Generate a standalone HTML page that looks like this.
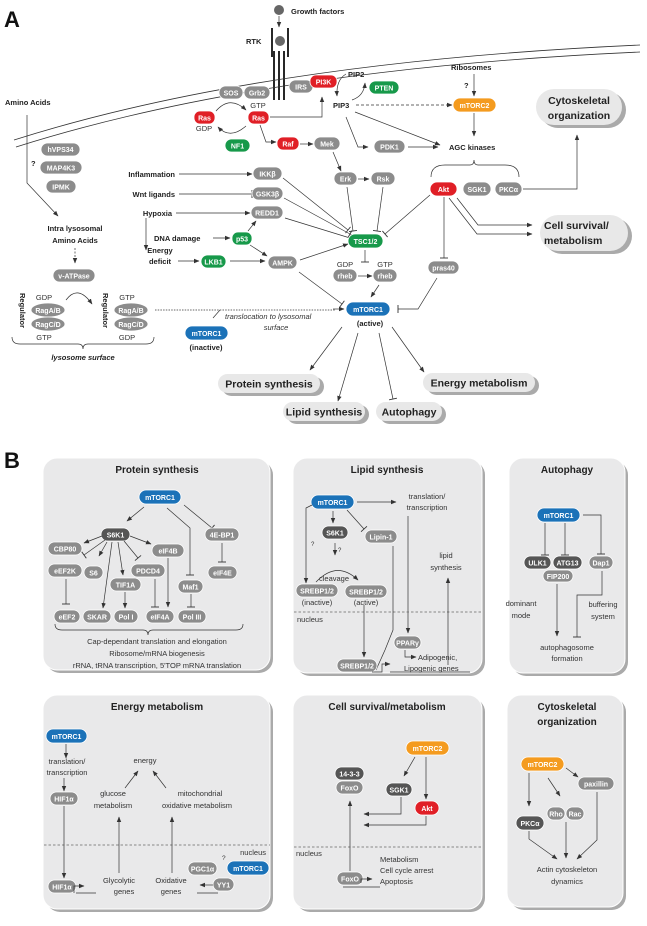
<!DOCTYPE html>
<html><head><meta charset="utf-8"><style>
html,body{margin:0;padding:0;background:#fff}
svg{display:block}
text{font-family:"Liberation Sans",sans-serif}
.b{font-weight:bold;font-size:7.5px;fill:#222}
.n{font-size:7.5px;fill:#333}
.pt{font-weight:bold;font-size:7px;fill:#fff;text-anchor:middle}
.g{fill:#8c8c8c;stroke:#fff;stroke-width:0.8}
.d{fill:#555;stroke:#fff;stroke-width:0.8}
.r{fill:#e01f26;stroke:#fff;stroke-width:0.8}
.gr{fill:#17994a;stroke:#fff;stroke-width:0.8}
.bl{fill:#1b72b8;stroke:#fff;stroke-width:0.8}
.o{fill:#f49b1f;stroke:#fff;stroke-width:0.8}
.l{stroke:#333;stroke-width:0.7;fill:none}
.a{marker-end:url(#ar)}
.t{marker-end:url(#tb)}
.bub{fill:#e8e8e8}
.bs{fill:#aaa}
.bt{font-weight:bold;font-size:10.5px;fill:#222;text-anchor:middle}
.box{fill:#e9e9ea}
.c{text-anchor:middle}
</style></head><body>
<svg width="647" height="926" viewBox="0 0 647 926" xmlns="http://www.w3.org/2000/svg">
<defs>
<marker id="ar" markerWidth="6" markerHeight="6" refX="5" refY="3" orient="auto" markerUnits="userSpaceOnUse"><path d="M0,0.8 L5.5,3 L0,5.2z" fill="#333"/></marker>
<marker id="tb" markerWidth="2" markerHeight="8" refX="1" refY="4" orient="auto" markerUnits="userSpaceOnUse"><path d="M1,0 L1,8" stroke="#333" stroke-width="0.9"/></marker>
</defs>

<!-- PANEL A -->
<text x="4" y="27" style="font-weight:bold;font-size:22px;fill:#111">A</text>
<circle cx="279" cy="10" r="5" fill="#666"/>
<text x="291" y="14" class="b">Growth factors</text>
<path class="l a" d="M279,16 L279,27"/>
<text x="246" y="44" class="b">RTK</text>
<path d="M272,28 V57 M288,28 V57 M274,51 V100 M279,51 V100 M284,51 V100" stroke="#111" stroke-width="1.8"/>
<circle cx="280" cy="41" r="5" fill="#666"/>
<path d="M14,140 Q 260,62 640,45" class="l" style="stroke-width:0.8"/>
<path d="M16,147 Q 262,69 640,52" class="l" style="stroke-width:0.8"/>

<text x="5" y="105" class="b">Amino Acids</text>
<path class="l a" d="M27,115 V183 L58,216"/>
<text x="31" y="166" class="b">?</text>
<rect x="41" y="143" width="39" height="13" rx="6.5" class="g"/><text x="60.5" y="152" class="pt">hVPS34</text>
<rect x="40" y="161" width="42" height="13" rx="6.5" class="g"/><text x="61" y="170.5" class="pt">MAP4K3</text>
<rect x="46" y="180" width="30" height="13" rx="6.5" class="g"/><text x="61" y="189.5" class="pt">IPMK</text>

<rect x="219" y="86" width="24" height="13" rx="6.5" class="g"/><text x="231" y="95.5" class="pt">SOS</text>
<rect x="244" y="86" width="26" height="13" rx="6.5" class="g"/><text x="257" y="95.5" class="pt">Grb2</text>
<rect x="194" y="111" width="21" height="13" rx="6" class="r"/><text x="204.5" y="120.5" class="pt">Ras</text>
<text x="204" y="131" class="n c">GDP</text>
<rect x="248" y="111" width="21" height="13" rx="6" class="r"/><text x="258.5" y="120.5" class="pt">Ras</text>
<text x="258" y="108" class="n c">GTP</text>
<path class="l a" d="M216,111 Q230,95 246,110"/>
<path class="l a" d="M246,126 Q230,140 218,127"/>
<rect x="225" y="139" width="25" height="13" rx="6.5" class="gr"/><text x="237.5" y="148.5" class="pt">NF1</text>
<path class="l a" d="M270,117 H322 V97"/>
<path class="l a" d="M260,125 L266,142 H276"/>
<rect x="277" y="137" width="22" height="13" rx="6" class="r"/><text x="288" y="146.5" class="pt">Raf</text>
<path class="l a" d="M300,144 H313"/>
<rect x="314" y="137" width="26" height="13" rx="6.5" class="g"/><text x="327" y="146.5" class="pt">Mek</text>
<rect x="289" y="80" width="24" height="13" rx="6.5" class="g"/><text x="301" y="89.5" class="pt">IRS</text>
<rect x="310" y="75" width="27" height="13" rx="6" class="r"/><text x="323.5" y="84.5" class="pt">PI3K</text>
<text x="348" y="77" class="b">PIP2</text>
<path class="l a" d="M346,74 Q336,80 337,96"/>
<path class="l a" d="M352,100 Q364,96 365,83"/>
<rect x="369" y="81" width="30" height="13" rx="6.5" class="gr"/><text x="384" y="90.5" class="pt">PTEN</text>
<text x="333" y="108" class="b">PIP3</text>
<path class="l a" d="M356,105 H452" stroke-dasharray="3,2"/>
<text x="451" y="70" class="b">Ribosomes</text>
<text x="464" y="88" class="b">?</text>
<path class="l a" d="M474,74 V96"/>
<rect x="453" y="98" width="43" height="14" rx="7" class="o"/><text x="474.5" y="108" class="pt">mTORC2</text>
<path class="l a" d="M474,113 V136"/>
<text x="449" y="150" class="b">AGC kinases</text>
<path class="l a" d="M355,112 L440,145"/>
<path class="l a" d="M346,117 L358,147 H368"/>
<rect x="374" y="140" width="31" height="13" rx="6.5" class="g"/><text x="389.5" y="149.5" class="pt">PDK1</text>
<path class="l a" d="M408,147 H438"/>
<path class="l" d="M431,177 Q431,165 445,165 H470 Q474,165 474,160 Q474,165 478,165 H505 Q519,165 519,177"/>
<path class="l a" d="M333,152 L341,171"/>
<rect x="334" y="172" width="23" height="13" rx="6.5" class="g"/><text x="345.5" y="181.5" class="pt">Erk</text>
<path class="l a" d="M358,179 H369"/>
<rect x="371" y="172" width="24" height="13" rx="6.5" class="g"/><text x="383" y="181.5" class="pt">Rsk</text>
<rect x="430" y="182" width="27" height="14" rx="7" class="r"/><text x="443.5" y="192" class="pt">Akt</text>
<rect x="463" y="182" width="28" height="14" rx="7" class="g"/><text x="477" y="192" class="pt">SGK1</text>
<rect x="495" y="182" width="27" height="14" rx="7" class="g"/><text x="508.5" y="192" class="pt">PKCα</text>
<path class="l a" d="M523,189 H577 V135"/>
<rect x="540" y="92" width="86" height="36" rx="18" class="bs"/>
<rect x="536" y="89" width="86" height="36" rx="18" class="bub"/>
<text x="579" y="104" class="bt">Cytoskeletal</text>
<text x="579" y="119" class="bt">organization</text>
<rect x="544" y="218" width="88" height="36" rx="18" class="bs"/>
<rect x="540" y="215" width="88" height="36" rx="18" class="bub"/>
<text x="544" y="229" class="bt" style="text-anchor:start">Cell survival/</text>
<text x="544" y="244" class="bt" style="text-anchor:start">metabolism</text>
<path class="l a" d="M457,198 L478,225 H532"/>
<path class="l a" d="M449,198 L477,234 H532"/>
<path class="l t" d="M444,197 V258"/>
<rect x="428" y="261" width="31" height="13" rx="6.5" class="g"/><text x="443.5" y="270.5" class="pt">pras40</text>

<text x="175" y="177" class="b" text-anchor="end">Inflammation</text>
<path class="l a" d="M179,174 H252"/>
<rect x="253" y="167" width="29" height="13" rx="6.5" class="g"/><text x="267.5" y="176.5" class="pt">IKKβ</text>
<text x="175" y="197" class="b" text-anchor="end">Wnt ligands</text>
<path class="l t" d="M179,194 H252"/>
<rect x="252" y="187" width="31" height="13" rx="6.5" class="g"/><text x="267.5" y="196.5" class="pt">GSK3β</text>
<text x="172" y="216" class="b" text-anchor="end">Hypoxia</text>
<path class="l a" d="M176,213 H250"/>
<rect x="251" y="206" width="32" height="13" rx="6.5" class="g"/><text x="267" y="215.5" class="pt">REDD1</text>
<path class="l a" d="M146,218 V250"/>
<text x="154" y="241" class="b">DNA damage</text>
<path class="l a" d="M213,238 H230"/>
<rect x="232" y="232" width="20" height="13" rx="6" class="gr"/><text x="242" y="241.5" class="pt">p53</text>
<path class="l a" d="M248,231 L256,221"/>
<path class="l a" d="M250,245 L267,256"/>
<text x="160" y="253" class="b c">Energy</text>
<text x="160" y="264" class="b c">deficit</text>
<path class="l a" d="M178,261 H199"/>
<rect x="201" y="255" width="25" height="13" rx="6.5" class="gr"/><text x="213.5" y="264.5" class="pt">LKB1</text>
<path class="l a" d="M230,261 H265"/>
<rect x="268" y="256" width="29" height="13" rx="6.5" class="g"/><text x="282.5" y="265.5" class="pt">AMPK</text>
<path class="l t" d="M283,178 L348,230"/>
<path class="l t" d="M284,198 L350,234"/>
<path class="l t" d="M285,218 L350,238"/>
<path class="l a" d="M300,260 L348,244"/>
<path class="l t" d="M347,187 L353,231"/>
<path class="l t" d="M383,187 L377,231"/>
<path class="l t" d="M430,195 L385,234"/>
<rect x="348" y="234" width="35" height="14" rx="7" class="gr"/><text x="365.5" y="244" class="pt">TSC1/2</text>
<path class="l t" d="M365,250 V262"/>
<text x="345" y="267" class="n c">GDP</text>
<rect x="333" y="269" width="24" height="13" rx="6.5" class="g"/><text x="345" y="278.5" class="pt">rheb</text>
<path class="l a" d="M358,276 H372"/>
<text x="385" y="267" class="n c">GTP</text>
<rect x="373" y="269" width="24" height="13" rx="6.5" class="g"/><text x="385" y="278.5" class="pt">rheb</text>
<path class="l a" d="M379,285 L371,297"/>
<path class="l t" d="M299,272 L342,304"/>
<path class="l t" d="M437,278 L418,309 H398"/>
<rect x="346" y="302" width="44" height="14" rx="7" class="bl"/><text x="368" y="312" class="pt">mTORC1</text>
<text x="370" y="326" class="b c">(active)</text>

<text x="75" y="231" class="b c">Intra lysosomal</text>
<text x="75" y="243" class="b c">Amino Acids</text>
<path class="l a" d="M75,248 V263" stroke-dasharray="2,1.5"/>
<rect x="53" y="269" width="42" height="13" rx="6.5" class="g"/><text x="74" y="278.5" class="pt">v-ATPase</text>
<path class="l a" d="M66,300 Q78,284 92,304"/>
<text x="44" y="300" class="n c">GDP</text>
<ellipse cx="48" cy="310" rx="17" ry="7" fill="#8c8c8c" stroke="#fff" stroke-width="0.8"/><text x="48" y="313" class="pt">RagA/B</text>
<ellipse cx="48" cy="324" rx="17" ry="7" fill="#8c8c8c" stroke="#fff" stroke-width="0.8"/><text x="48" y="327" class="pt">RagC/D</text>
<text x="44" y="340" class="n c">GTP</text>
<text transform="translate(20,293) rotate(90)" class="b">Regulator</text>
<text x="127" y="300" class="n c">GTP</text>
<ellipse cx="131" cy="310" rx="17" ry="7" fill="#8c8c8c" stroke="#fff" stroke-width="0.8"/><text x="131" y="313" class="pt">RagA/B</text>
<ellipse cx="131" cy="324" rx="17" ry="7" fill="#8c8c8c" stroke="#fff" stroke-width="0.8"/><text x="131" y="327" class="pt">RagC/D</text>
<text x="127" y="340" class="n c">GDP</text>
<text transform="translate(103,293) rotate(90)" class="b">Regulator</text>
<path class="l" d="M12,337 Q12,344 20,344 H78 Q83,344 83,349 Q83,344 88,344 H146 Q154,344 154,337"/>
<text x="83" y="360" class="b c" style="font-style:italic">lysosome surface</text>
<path class="l" d="M155,310 H335" stroke-dasharray="1.5,1.2"/>
<path class="l a" d="M333,309 H344"/>
<path class="l" d="M213,318 L220,310"/>
<text x="225" y="319" class="n" style="font-style:italic">translocation to lysosomal</text>
<text x="276" y="330" class="n c" style="font-style:italic">surface</text>
<rect x="185" y="326" width="43" height="14" rx="7" class="bl"/><text x="206.5" y="336" class="pt">mTORC1</text>
<text x="206" y="350" class="b c">(inactive)</text>

<path class="l a" d="M342,327 L310,370"/>
<path class="l a" d="M358,333 L338,401"/>
<path class="l t" d="M379,333 L393,399"/>
<path class="l a" d="M392,327 L424,372"/>
<rect x="222" y="377" width="102" height="19" rx="9.5" class="bs"/>
<rect x="218" y="374" width="102" height="19" rx="9.5" class="bub"/><text x="269" y="387.5" class="bt">Protein synthesis</text>
<rect x="287" y="405" width="82" height="19" rx="9.5" class="bs"/>
<rect x="283" y="402" width="82" height="19" rx="9.5" class="bub"/><text x="324" y="415.5" class="bt">Lipid synthesis</text>
<rect x="380" y="405" width="66" height="19" rx="9.5" class="bs"/>
<rect x="376" y="402" width="66" height="19" rx="9.5" class="bub"/><text x="409" y="415.5" class="bt">Autophagy</text>
<rect x="427" y="376" width="112" height="19" rx="9.5" class="bs"/>
<rect x="423" y="373" width="112" height="19" rx="9.5" class="bub"/><text x="479" y="386.5" class="bt">Energy metabolism</text>

<!-- PANEL B -->
<text x="4" y="468" style="font-weight:bold;font-size:22px;fill:#111">B</text>
<g>
<rect x="46" y="461" width="227" height="212" rx="14" class="bs"/>
<rect x="43" y="458" width="227" height="212" rx="14" class="box" stroke="#fff"/>
<rect x="296" y="461" width="189" height="215" rx="14" class="bs"/>
<rect x="293" y="458" width="189" height="215" rx="14" class="box" stroke="#fff"/>
<rect x="512" y="461" width="116" height="215" rx="14" class="bs"/>
<rect x="509" y="458" width="116" height="215" rx="14" class="box" stroke="#fff"/>
<rect x="46" y="698" width="227" height="214" rx="14" class="bs"/>
<rect x="43" y="695" width="227" height="214" rx="14" class="box" stroke="#fff"/>
<rect x="296" y="698" width="189" height="214" rx="14" class="bs"/>
<rect x="293" y="695" width="189" height="214" rx="14" class="box" stroke="#fff"/>
<rect x="510" y="698" width="116" height="212" rx="14" class="bs"/>
<rect x="507" y="695" width="116" height="212" rx="14" class="box" stroke="#fff"/>
</g>
<text x="157" y="473" class="bt" style="font-size:10px">Protein synthesis</text>
<rect x="139" y="490" width="42" height="14" rx="7" class="bl"/><text x="160" y="500" class="pt">mTORC1</text>
<path class="l a" d="M144,507 L127,521"/>
<path class="l t" d="M167,508 L190,528 V575"/>
<path class="l t" d="M184,505 L212,528"/>
<rect x="101" y="528" width="29" height="13" rx="6.5" class="d"/><text x="115.5" y="537.5" class="pt">S6K1</text>
<rect x="205" y="528" width="34" height="13" rx="6.5" class="g"/><text x="222" y="537.5" class="pt">4E-BP1</text>
<path class="l t" d="M222,543 V562"/>
<rect x="208" y="566" width="29" height="13" rx="6.5" class="g"/><text x="222.5" y="575.5" class="pt">eIF4E</text>
<rect x="48" y="542" width="34" height="13" rx="6.5" class="g"/><text x="65" y="551.5" class="pt">CBP80</text>
<rect x="152" y="544" width="32" height="13" rx="6.5" class="g"/><text x="168" y="553.5" class="pt">eIF4B</text>
<rect x="48" y="564" width="34" height="13" rx="6.5" class="g"/><text x="65" y="573.5" class="pt">eEF2K</text>
<rect x="84" y="566" width="19" height="13" rx="6.5" class="g"/><text x="93.5" y="575.5" class="pt">S6</text>
<rect x="131" y="564" width="34" height="13" rx="6.5" class="g"/><text x="148" y="573.5" class="pt">PDCD4</text>
<rect x="110" y="578" width="31" height="13" rx="6.5" class="g"/><text x="125.5" y="587.5" class="pt">TIF1A</text>
<rect x="178" y="580" width="25" height="13" rx="6.5" class="g"/><text x="190.5" y="589.5" class="pt">Maf1</text>
<path class="l a" d="M102,536 L84,543"/>
<path class="l t" d="M105,540 L84,555"/>
<path class="l a" d="M107,542 L99,556"/>
<path class="l a" d="M112,542 L103,608"/>
<path class="l a" d="M118,542 L123,575"/>
<path class="l t" d="M124,541 L138,558"/>
<path class="l a" d="M130,536 L151,544"/>
<path class="l t" d="M66,579 V604"/>
<path class="l a" d="M125,592 V608"/>
<path class="l t" d="M155,579 V607"/>
<path class="l a" d="M168,558 V607"/>
<path class="l t" d="M191,594 V607"/>
<rect x="54" y="610" width="26" height="13" rx="6.5" class="g"/><text x="67" y="619.5" class="pt">eEF2</text>
<rect x="83" y="610" width="28" height="13" rx="6.5" class="g"/><text x="97" y="619.5" class="pt">SKAR</text>
<rect x="114" y="610" width="24" height="13" rx="6.5" class="g"/><text x="126" y="619.5" class="pt">Pol I</text>
<rect x="146" y="610" width="28" height="13" rx="6.5" class="g"/><text x="160" y="619.5" class="pt">eIF4A</text>
<rect x="178" y="610" width="28" height="13" rx="6.5" class="g"/><text x="192" y="619.5" class="pt">Pol III</text>
<path class="l" d="M55,624 Q55,630 62,630 H143 Q148,630 148,635 Q148,630 153,630 H236 Q243,630 243,624"/>
<text x="157" y="644" class="n c">Cap-dependant translation and elongation</text>
<text x="157" y="656" class="n c">Ribosome/mRNA biogenesis</text>
<text x="157" y="668" class="n c">rRNA, tRNA transcription, 5'TOP mRNA  translation</text>

<text x="387" y="473" class="bt" style="font-size:10px">Lipid synthesis</text>
<rect x="311" y="495" width="43" height="14" rx="7" class="bl"/><text x="332.5" y="505" class="pt">mTORC1</text>
<path class="l a" d="M357,502 H396"/>
<text x="427" y="499" class="n c">translation/</text>
<text x="427" y="510" class="n c">transcription</text>
<path class="l a" d="M408,516 V633"/>
<path class="l a" d="M333,511 V523"/>
<path class="l t" d="M347,510 L364,529"/>
<path class="l a" d="M312,505 L306,508 V583"/>
<text x="311" y="546" class="n" style="font-size:6px">?</text>
<rect x="322" y="526" width="26" height="13" rx="6.5" class="d"/><text x="335" y="535.5" class="pt">S6K1</text>
<rect x="365" y="530" width="32" height="13" rx="6.5" class="g"/><text x="381" y="539.5" class="pt">Lipin-1</text>
<path class="l a" d="M335,543 V555"/>
<text x="338" y="552" class="n" style="font-size:6px">?</text>
<path class="l a" d="M316,582 Q337,560 358,580"/>
<text x="334" y="581" class="n c">cleavage</text>
<rect x="296" y="584" width="42" height="13" rx="6.5" class="g"/><text x="317" y="593.5" class="pt">SREBP1/2</text>
<text x="317" y="605" class="n c">(inactive)</text>
<rect x="345" y="585" width="42" height="13" rx="6.5" class="g"/><text x="366" y="594.5" class="pt">SREBP1/2</text>
<text x="366" y="605" class="n c">(active)</text>
<path d="M294,612 H482" stroke="#666" stroke-width="0.7" stroke-dasharray="2.5,2"/>
<text x="297" y="622" class="n">nucleus</text>
<path class="l a" d="M364,605 V657"/>
<path class="l" d="M393,546 V630 L385,650 L376,670"/>
<text x="446" y="558" class="n c">lipid</text>
<text x="446" y="570" class="n c">synthesis</text>
<path class="l a" d="M448,665 V578"/>
<rect x="394" y="636" width="27" height="13" rx="6.5" class="g"/><text x="407.5" y="645.5" class="pt">PPARγ</text>
<path class="l a" d="M405,650 V657 H416"/>
<text x="418" y="660" class="n">Adipogenic,</text>
<rect x="337" y="659" width="40" height="13" rx="6.5" class="g"/><text x="357" y="668.5" class="pt">SREBP1/2</text>
<path class="l a" d="M372,672 H382 V664 H390"/>
<path class="l" d="M390,672 H470"/>
<text x="404" y="671" class="n">Lipogenic genes</text>

<text x="567" y="473" class="bt" style="font-size:10px">Autophagy</text>
<rect x="537" y="508" width="43" height="14" rx="7" class="bl"/><text x="558.5" y="518" class="pt">mTORC1</text>
<path class="l t" d="M545,523 V555"/>
<path class="l t" d="M565,523 V555"/>
<path class="l t" d="M583,515 H601 V554"/>
<rect x="524" y="556" width="27" height="13" rx="6.5" class="d"/><text x="537.5" y="565.5" class="pt">ULK1</text>
<rect x="553" y="556" width="29" height="13" rx="6.5" class="d"/><text x="567.5" y="565.5" class="pt">ATG13</text>
<rect x="589" y="556" width="24" height="13" rx="6.5" class="g"/><text x="601" y="565.5" class="pt">Dap1</text>
<rect x="543" y="570" width="30" height="12" rx="6" class="g"/><text x="558" y="579" class="pt">FIP200</text>
<path class="l a" d="M557,584 V636"/>
<path class="l t" d="M602,571 V595 H577 V637"/>
<text x="521" y="606" class="n c">dominant</text>
<text x="521" y="618" class="n c">mode</text>
<text x="603" y="607" class="n c">buffering</text>
<text x="603" y="619" class="n c">system</text>
<text x="567" y="650" class="n c">autophagosome</text>
<text x="567" y="661" class="n c">formation</text>

<text x="157" y="710" class="bt" style="font-size:10px">Energy metabolism</text>
<rect x="46" y="729" width="41" height="14" rx="7" class="bl"/><text x="66.5" y="739" class="pt">mTORC1</text>
<path class="l a" d="M66,744 V758"/>
<text x="67" y="764" class="n c">translation/</text>
<text x="67" y="775" class="n c">transcription</text>
<path class="l a" d="M64,778 V791"/>
<rect x="50" y="792" width="28" height="13" rx="6.5" class="g"/><text x="64" y="801.5" class="pt">HIF1α</text>
<path d="M44,845 H270" stroke="#666" stroke-width="0.7" stroke-dasharray="2.5,2"/>
<path class="l a" d="M64,806 V878"/>
<text x="266" y="855" class="n" text-anchor="end">nucleus</text>
<rect x="48" y="880" width="28" height="13" rx="6.5" class="g"/><text x="62" y="889.5" class="pt">HIF1α</text>
<path class="l a" d="M74,893 V886 H84"/>
<path class="l" d="M76,893 H96"/>
<text x="145" y="763" class="n c">energy</text>
<path class="l a" d="M125,788 L138,771"/>
<path class="l a" d="M166,788 L153,771"/>
<text x="113" y="796" class="n c">glucose</text>
<text x="113" y="808" class="n c">metabolism</text>
<text x="200" y="796" class="n c">mitochondrial</text>
<text x="197" y="808" class="n c">oxidative metabolism</text>
<path class="l a" d="M119,873 V817"/>
<path class="l a" d="M172,873 V817"/>
<text x="119" y="883" class="n c">Glycolytic</text>
<text x="124" y="894" class="n c">genes</text>
<text x="171" y="883" class="n c">Oxidative</text>
<text x="171" y="894" class="n c">genes</text>
<text x="222" y="860" class="n" style="font-size:6.5px">?</text>
<rect x="188" y="862" width="29" height="13" rx="6.5" class="g"/><text x="202.5" y="871.5" class="pt">PGC1α</text>
<rect x="227" y="861" width="42" height="14" rx="7" class="bl"/><text x="248" y="871" class="pt">mTORC1</text>
<rect x="213" y="878" width="21" height="13" rx="6.5" class="g"/><text x="223.5" y="887.5" class="pt">YY1</text>
<path class="l a" d="M213,885 H200"/>
<path class="l" d="M197,893 H218"/>

<text x="387" y="710" class="bt" style="font-size:10px">Cell survival/metabolism</text>
<rect x="406" y="741" width="43" height="14" rx="7" class="o"/><text x="427.5" y="751" class="pt">mTORC2</text>
<path class="l a" d="M415,757 L404,776"/>
<path class="l a" d="M426,757 V799"/>
<rect x="335" y="767" width="29" height="13" rx="6.5" class="d"/><text x="349.5" y="776.5" class="pt">14-3-3</text>
<rect x="336" y="781" width="27" height="13" rx="6.5" class="g"/><text x="349.5" y="790.5" class="pt">FoxO</text>
<rect x="386" y="783" width="26" height="13" rx="6.5" class="d"/><text x="399" y="792.5" class="pt">SGK1</text>
<rect x="415" y="801" width="24" height="14" rx="7" class="r"/><text x="427" y="811" class="pt">Akt</text>
<path class="l a" d="M401,797 V814 H364"/>
<path class="l a" d="M426,816 V825 H364"/>
<path d="M294,847 H482" stroke="#666" stroke-width="0.7" stroke-dasharray="2.5,2"/>
<text x="296" y="856" class="n">nucleus</text>
<path class="l a" d="M350,871 V801"/>
<rect x="337" y="872" width="26" height="13" rx="6.5" class="g"/><text x="350" y="881.5" class="pt">FoxO</text>
<path class="l a" d="M361,883 V879 H372"/>
<path class="l" d="M343,887 H380"/>
<text x="380" y="862" class="n">Metabolism</text>
<text x="380" y="873" class="n">Cell cycle arrest</text>
<text x="380" y="884" class="n">Apoptosis</text>

<text x="567" y="710" class="bt" style="font-size:10px">Cytoskeletal</text>
<text x="567" y="725" class="bt" style="font-size:10px">organization</text>
<rect x="521" y="757" width="43" height="14" rx="7" class="o"/><text x="542.5" y="767" class="pt">mTORC2</text>
<path class="l a" d="M566,768 L578,777"/>
<rect x="578" y="777" width="36" height="13" rx="6.5" class="g"/><text x="596" y="786.5" class="pt">paxillin</text>
<path class="l a" d="M529,773 V806"/>
<path class="l a" d="M548,778 L560,796"/>
<rect x="547" y="807" width="18" height="13" rx="6.5" class="g"/><text x="556" y="816.5" class="pt">Rho</text>
<rect x="566" y="807" width="18" height="13" rx="6.5" class="g"/><text x="575" y="816.5" class="pt">Rac</text>
<rect x="516" y="816" width="28" height="14" rx="7" class="d"/><text x="530" y="826" class="pt">PKCα</text>
<path class="l a" d="M529,831 V839 L557,859"/>
<path class="l a" d="M566,822 V858"/>
<path class="l a" d="M597,792 V840 L577,859"/>
<text x="567" y="872" class="n c">Actin cytoskeleton</text>
<text x="567" y="884" class="n c">dynamics</text>
</svg>
</body></html>
